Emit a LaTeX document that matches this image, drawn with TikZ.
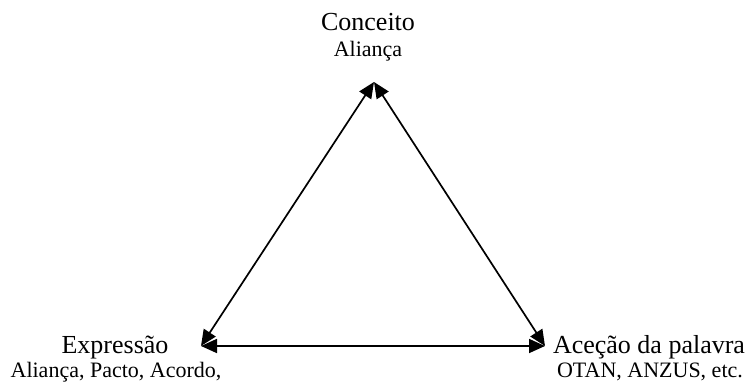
\documentclass[tikz,border=0pt]{standalone}
\usepackage{fontspec}
\setmainfont{Liberation Serif}
\usetikzlibrary{arrows.meta}
\tikzset{
  big/.style={inner sep=0pt, font=\fontsize{26}{30}\selectfont, anchor=base},
  small/.style={inner sep=0pt, font=\fontsize{22}{26}\selectfont, anchor=base},
  link/.style={line width=1.7pt, {Triangle[length=16pt,width=14pt]}-{Triangle[length=16pt,width=14pt]}}
}
\begin{document}
\begin{tikzpicture}[x=1pt,y=-1pt]
\useasboundingbox (0,0) rectangle (749,382);
\coordinate (top) at (374,82);
\coordinate (left) at (201,346);
\coordinate (right) at (545,346);
\node[big] (c1) at (368,31) {Conceito};
\node[small] (c2) at (368,57) {Aliança};
\node[big] (e1) at (115,353) {Expressão};
\node[small] (e2) at (116,377) {Aliança, Pacto, Acordo,};
\node[big] (a1) at (649,353) {Aceção da palavra};
\node[small] (a2) at (650,377) {OTAN, ANZUS, etc.};
\draw[link] (top) -- (left);
\draw[link] (top) -- (right);
\draw[link] (left) -- (right);
\end{tikzpicture}
\end{document}
